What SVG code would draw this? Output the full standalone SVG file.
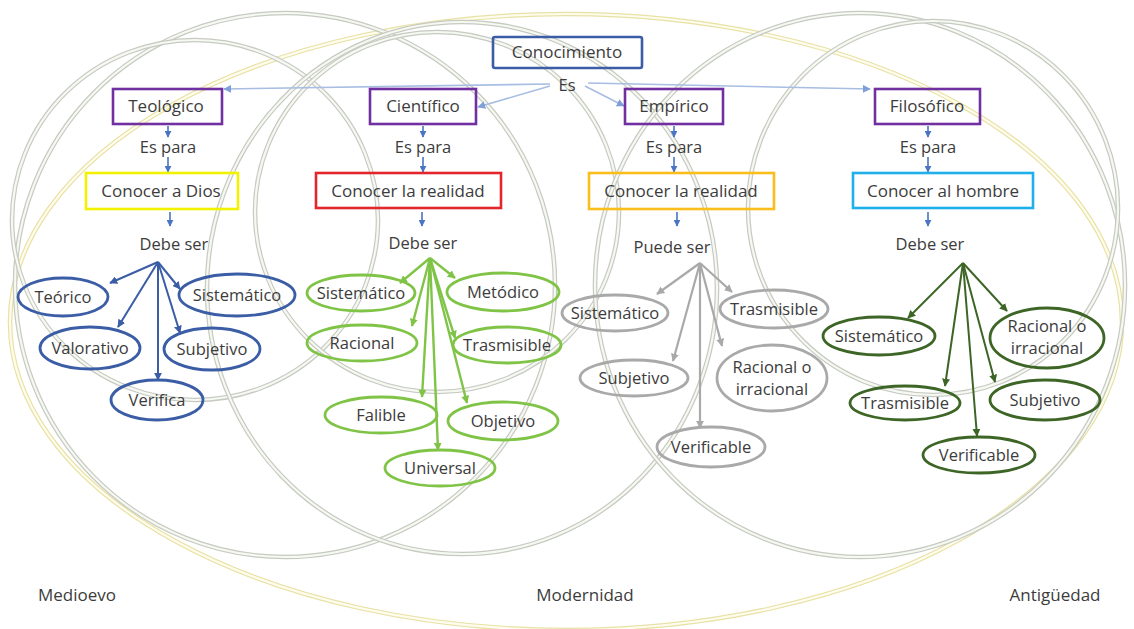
<svg xmlns="http://www.w3.org/2000/svg" width="1134" height="629" viewBox="0 0 1134 629">
<style>
  .bg { fill: #ffffff; }
  .ringA { fill: none; stroke: #c6cac1; stroke-width: 4.6; }
  .ringB { fill: none; stroke: #f6f8f2; stroke-width: 2.2; }
  .yringA { fill: none; stroke: #e8e1a4; stroke-width: 4.6; }
  .yringB { fill: none; stroke: #fefcee; stroke-width: 2.2; }
  .t { font-family: "Open Sans", Lato, "Liberation Sans", sans-serif; fill: #3c3c3c; text-anchor: middle; }
  .box { font-size: 17px; }
  .lab { font-size: 16.5px; }
  .per { font-size: 17px; }
  .rect { fill: none; stroke-width: 2.6; }
  .ell { fill: none; stroke-width: 2.8; }
  .c-blue { stroke: #3a5da6; }
  .c-lgreen { stroke: #80c447; }
  .c-gray { stroke: #a9a9a9; }
  .c-dgreen { stroke: #3d6526; }
  .es { stroke: #a7bde2; stroke-width: 1.6; fill: none; }
  .sm { stroke: #4a74c4; stroke-width: 1.6; fill: none; }
</style>
<defs>
  <marker id="mBlue" viewBox="0 0 10 10" refX="9" refY="5" markerUnits="userSpaceOnUse" markerWidth="8" markerHeight="8" orient="auto"><path d="M0,0 L10,5 L0,10 z" fill="#3a5da6"/></marker>
  <marker id="mLG" viewBox="0 0 10 10" refX="9" refY="5" markerUnits="userSpaceOnUse" markerWidth="8" markerHeight="8" orient="auto"><path d="M0,0 L10,5 L0,10 z" fill="#80c447"/></marker>
  <marker id="mGray" viewBox="0 0 10 10" refX="9" refY="5" markerUnits="userSpaceOnUse" markerWidth="8" markerHeight="8" orient="auto"><path d="M0,0 L10,5 L0,10 z" fill="#a9a9a9"/></marker>
  <marker id="mDG" viewBox="0 0 10 10" refX="9" refY="5" markerUnits="userSpaceOnUse" markerWidth="8" markerHeight="8" orient="auto"><path d="M0,0 L10,5 L0,10 z" fill="#3d6526"/></marker>
  <marker id="mEs" viewBox="0 0 10 10" refX="9" refY="5" markerUnits="userSpaceOnUse" markerWidth="8" markerHeight="8" orient="auto"><path d="M0,0 L10,5 L0,10 z" fill="#7f9fd6"/></marker>
  <marker id="mSm" viewBox="0 0 10 10" refX="9" refY="5" markerUnits="userSpaceOnUse" markerWidth="7" markerHeight="7" orient="auto"><path d="M0,0 L10,5 L0,10 z" fill="#4a74c4"/></marker>
</defs>
<rect class="bg" x="0" y="0" width="1134" height="629"/>

<g id="rings">
  <ellipse class="yringA" cx="566" cy="322" rx="556" ry="308"/>
  <ellipse class="yringB" cx="566" cy="322" rx="556" ry="308"/>
  <ellipse class="ringA" cx="285" cy="285" rx="270" ry="272"/>
  <ellipse class="ringB" cx="285" cy="285" rx="270" ry="272"/>
  <ellipse class="ringA" cx="195" cy="220" rx="183" ry="180"/>
  <ellipse class="ringB" cx="195" cy="220" rx="183" ry="180"/>
  <ellipse class="ringA" cx="462" cy="288" rx="255" ry="266"/>
  <ellipse class="ringB" cx="462" cy="288" rx="255" ry="266"/>
  <ellipse class="ringA" cx="437" cy="212" rx="182" ry="180"/>
  <ellipse class="ringB" cx="437" cy="212" rx="182" ry="180"/>
  <ellipse class="ringA" cx="860" cy="285" rx="265" ry="272"/>
  <ellipse class="ringB" cx="860" cy="285" rx="265" ry="272"/>
  <ellipse class="ringA" cx="933" cy="208" rx="185" ry="187"/>
  <ellipse class="ringB" cx="933" cy="208" rx="185" ry="187"/>
</g>

<g id="connectors">
  <line class="es" x1="550" y1="84" x2="224" y2="89" marker-end="url(#mEs)"/>
  <line class="es" x1="550" y1="86" x2="478" y2="107" marker-end="url(#mEs)"/>
  <line class="es" x1="585" y1="86" x2="624" y2="106" marker-end="url(#mEs)"/>
  <line class="es" x1="588" y1="83" x2="870" y2="89" marker-end="url(#mEs)"/>

  <line class="sm" x1="168" y1="126" x2="168" y2="137" marker-end="url(#mSm)"/>
  <line class="sm" x1="168" y1="157" x2="168" y2="172" marker-end="url(#mSm)"/>
  <line class="sm" x1="170" y1="212" x2="170" y2="226" marker-end="url(#mSm)"/>
  <line class="sm" x1="423" y1="126" x2="423" y2="137" marker-end="url(#mSm)"/>
  <line class="sm" x1="423" y1="157" x2="423" y2="172" marker-end="url(#mSm)"/>
  <line class="sm" x1="422" y1="212" x2="422" y2="226" marker-end="url(#mSm)"/>
  <line class="sm" x1="674" y1="126" x2="674" y2="137" marker-end="url(#mSm)"/>
  <line class="sm" x1="674" y1="157" x2="674" y2="172" marker-end="url(#mSm)"/>
  <line class="sm" x1="677" y1="212" x2="677" y2="226" marker-end="url(#mSm)"/>
  <line class="sm" x1="928" y1="126" x2="928" y2="137" marker-end="url(#mSm)"/>
  <line class="sm" x1="928" y1="157" x2="928" y2="172" marker-end="url(#mSm)"/>
  <line class="sm" x1="928" y1="212" x2="928" y2="226" marker-end="url(#mSm)"/>

  <g class="c-blue" stroke-width="2" fill="none">
    <line x1="158" y1="262" x2="110" y2="283" marker-end="url(#mBlue)"/>
    <line x1="158" y1="262" x2="118" y2="327" marker-end="url(#mBlue)"/>
    <line x1="158" y1="262" x2="158" y2="380" marker-end="url(#mBlue)"/>
    <line x1="158" y1="262" x2="180" y2="333" marker-end="url(#mBlue)"/>
    <line x1="158" y1="262" x2="180" y2="289" marker-end="url(#mBlue)"/>
  </g>
  <g class="c-lgreen" stroke-width="2.4" fill="none">
    <line x1="430" y1="258" x2="400" y2="283" marker-end="url(#mLG)"/>
    <line x1="430" y1="258" x2="412" y2="326" marker-end="url(#mLG)"/>
    <line x1="430" y1="258" x2="422" y2="397" marker-end="url(#mLG)"/>
    <line x1="430" y1="258" x2="438" y2="450" marker-end="url(#mLG)"/>
    <line x1="430" y1="258" x2="467" y2="403" marker-end="url(#mLG)"/>
    <line x1="430" y1="258" x2="455" y2="338" marker-end="url(#mLG)"/>
    <line x1="430" y1="258" x2="455" y2="278" marker-end="url(#mLG)"/>
  </g>
  <g class="c-gray" stroke-width="2.2" fill="none">
    <line x1="700" y1="263" x2="657" y2="294" marker-end="url(#mGray)"/>
    <line x1="700" y1="263" x2="673" y2="361" marker-end="url(#mGray)"/>
    <line x1="700" y1="263" x2="700" y2="428" marker-end="url(#mGray)"/>
    <line x1="700" y1="263" x2="722" y2="346" marker-end="url(#mGray)"/>
    <line x1="700" y1="263" x2="732" y2="292" marker-end="url(#mGray)"/>
  </g>
  <g class="c-dgreen" stroke-width="2" fill="none">
    <line x1="963" y1="263" x2="908" y2="318" marker-end="url(#mDG)"/>
    <line x1="963" y1="263" x2="945" y2="386" marker-end="url(#mDG)"/>
    <line x1="963" y1="263" x2="977" y2="436" marker-end="url(#mDG)"/>
    <line x1="963" y1="263" x2="995" y2="382" marker-end="url(#mDG)"/>
    <line x1="963" y1="263" x2="1007" y2="311" marker-end="url(#mDG)"/>
  </g>
</g>

<g id="n-conocimiento">
  <rect class="rect c-blue" x="493" y="37" width="149" height="31" rx="2"/>
  <text class="t box" x="567" y="58">Conocimiento</text>
</g>
<g id="n-es"><text class="t lab" x="567" y="91">Es</text></g>

<g id="n-teologico">
  <rect class="rect" stroke="#7030a0" x="113" y="89" width="109" height="35"/>
  <text class="t box" x="166" y="112">Teológico</text>
</g>
<g id="n-cientifico">
  <rect class="rect" stroke="#7030a0" x="370" y="89" width="106" height="35"/>
  <text class="t box" x="423" y="112">Científico</text>
</g>
<g id="n-empirico">
  <rect class="rect" stroke="#7030a0" x="625" y="89" width="98" height="35"/>
  <text class="t box" x="674" y="112">Empírico</text>
</g>
<g id="n-filosofico">
  <rect class="rect" stroke="#7030a0" x="875" y="89" width="105" height="35"/>
  <text class="t box" x="927" y="112">Filosófico</text>
</g>

<g id="n-espara1"><text class="t lab" x="168" y="153">Es para</text></g>
<g id="n-espara2"><text class="t lab" x="423" y="153">Es para</text></g>
<g id="n-espara3"><text class="t lab" x="674" y="153">Es para</text></g>
<g id="n-espara4"><text class="t lab" x="928" y="153">Es para</text></g>

<g id="n-dios">
  <rect class="rect" stroke="#f2f200" x="86" y="173" width="152" height="36"/>
  <text class="t box" x="161" y="197">Conocer a Dios</text>
</g>
<g id="n-realidad1">
  <rect class="rect" stroke="#e3262c" x="316" y="173" width="185" height="35"/>
  <text class="t box" x="408" y="197">Conocer la realidad</text>
</g>
<g id="n-realidad2">
  <rect class="rect" stroke="#f9bd1c" x="589" y="173" width="185" height="36"/>
  <text class="t box" x="681" y="197">Conocer la realidad</text>
</g>
<g id="n-hombre">
  <rect class="rect" stroke="#1fb0ec" x="853" y="173" width="180" height="35"/>
  <text class="t box" x="943" y="197">Conocer al hombre</text>
</g>

<g id="n-debe1"><text class="t lab" x="174" y="250">Debe ser</text></g>
<g id="n-debe2"><text class="t lab" x="423" y="249">Debe ser</text></g>
<g id="n-puede3"><text class="t lab" x="672" y="253">Puede ser</text></g>
<g id="n-debe4"><text class="t lab" x="930" y="250">Debe ser</text></g>

<!-- Teológico column -->
<g id="t-teorico"><ellipse class="ell c-blue" cx="63" cy="297" rx="45" ry="19"/><text class="t lab" x="63" y="303">Teórico</text></g>
<g id="t-sistematico"><ellipse class="ell c-blue" cx="237" cy="295" rx="58" ry="21"/><text class="t lab" x="237" y="301">Sistemático</text></g>
<g id="t-valorativo"><ellipse class="ell c-blue" cx="90" cy="348" rx="50" ry="21"/><text class="t lab" x="90" y="354">Valorativo</text></g>
<g id="t-subjetivo"><ellipse class="ell c-blue" cx="212" cy="349" rx="48" ry="21"/><text class="t lab" x="212" y="355">Subjetivo</text></g>
<g id="t-verifica"><ellipse class="ell c-blue" cx="157" cy="400" rx="46" ry="20"/><text class="t lab" x="157" y="406">Verifica</text></g>

<!-- Científico column -->
<g id="c-sistematico"><ellipse class="ell c-lgreen" cx="361" cy="293" rx="54" ry="18"/><text class="t lab" x="361" y="299">Sistemático</text></g>
<g id="c-metodico"><ellipse class="ell c-lgreen" cx="503" cy="292" rx="56" ry="19"/><text class="t lab" x="503" y="298">Metódico</text></g>
<g id="c-racional"><ellipse class="ell c-lgreen" cx="362" cy="343" rx="55" ry="18"/><text class="t lab" x="362" y="349">Racional</text></g>
<g id="c-trasmisible"><ellipse class="ell c-lgreen" cx="507" cy="345" rx="54" ry="18"/><text class="t lab" x="507" y="351">Trasmisible</text></g>
<g id="c-falible"><ellipse class="ell c-lgreen" cx="381" cy="415" rx="56" ry="18"/><text class="t lab" x="381" y="421">Falible</text></g>
<g id="c-objetivo"><ellipse class="ell c-lgreen" cx="503" cy="421" rx="55" ry="19"/><text class="t lab" x="503" y="427">Objetivo</text></g>
<g id="c-universal"><ellipse class="ell c-lgreen" cx="440" cy="468" rx="55" ry="18"/><text class="t lab" x="440" y="474">Universal</text></g>

<!-- Empírico column -->
<g id="e-sistematico"><ellipse class="ell c-gray" cx="615" cy="313" rx="53" ry="18"/><text class="t lab" x="615" y="319">Sistemático</text></g>
<g id="e-trasmisible"><ellipse class="ell c-gray" cx="774" cy="309" rx="54" ry="19"/><text class="t lab" x="774" y="315">Trasmisible</text></g>
<g id="e-subjetivo"><ellipse class="ell c-gray" cx="634" cy="378" rx="54" ry="18"/><text class="t lab" x="634" y="384">Subjetivo</text></g>
<g id="e-racional"><ellipse class="ell c-gray" cx="772" cy="378" rx="55" ry="33"/><text class="t lab" x="772" y="373">Racional o</text><text class="t lab" x="772" y="395">irracional</text></g>
<g id="e-verificable"><ellipse class="ell c-gray" cx="711" cy="447" rx="54" ry="20"/><text class="t lab" x="711" y="453">Verificable</text></g>

<!-- Filosófico column -->
<g id="f-sistematico"><ellipse class="ell c-dgreen" cx="879" cy="336" rx="56" ry="19"/><text class="t lab" x="879" y="342">Sistemático</text></g>
<g id="f-racional"><ellipse class="ell c-dgreen" cx="1047" cy="338" rx="57" ry="30"/><text class="t lab" x="1047" y="332">Racional o</text><text class="t lab" x="1047" y="354">irracional</text></g>
<g id="f-trasmisible"><ellipse class="ell c-dgreen" cx="905" cy="403" rx="55" ry="17"/><text class="t lab" x="905" y="409">Trasmisible</text></g>
<g id="f-subjetivo"><ellipse class="ell c-dgreen" cx="1045" cy="400" rx="55" ry="20"/><text class="t lab" x="1045" y="406">Subjetivo</text></g>
<g id="f-verificable"><ellipse class="ell c-dgreen" cx="979" cy="455" rx="56" ry="18"/><text class="t lab" x="979" y="461">Verificable</text></g>

<g id="periods">
  <text class="t per" x="77" y="601">Medioevo</text>
  <text class="t per" x="585" y="601">Modernidad</text>
  <text class="t per" x="1055" y="601">Antigüedad</text>
</g>
</svg>
